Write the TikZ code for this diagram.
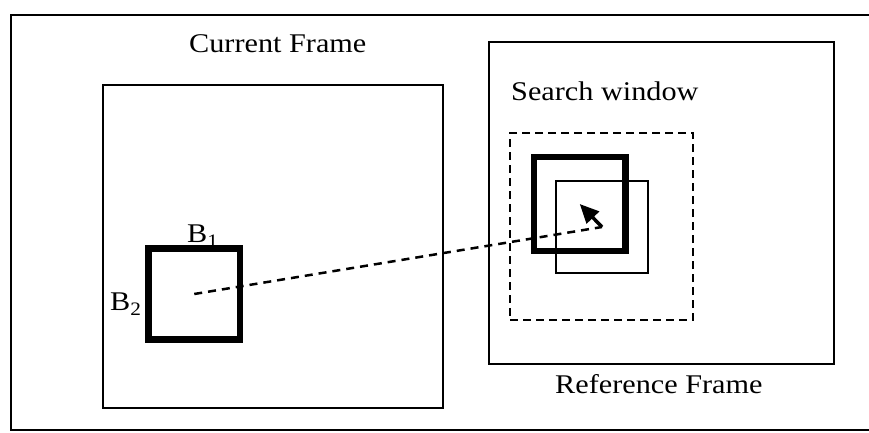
\documentclass[tikz,border=0pt]{standalone}
\usepackage{fontspec}
\usepackage{graphicx}
\setmainfont{Liberation Serif}
\usetikzlibrary{arrows.meta}
\tikzset{
  frame/.style={draw, line width=2pt, inner sep=0pt},
  blockthick/.style={draw, line width=6.5pt, inner sep=0pt},
  blockthin/.style={draw, line width=2pt, inner sep=0pt},
  searchwin/.style={draw, line width=2.5pt, dash pattern=on 8pt off 5pt, inner sep=0pt},
  lbl/.style={inner sep=0pt, font=\fontsize{27}{30}\selectfont},
  mv/.style={line width=2.5pt, dash pattern=on 8pt off 6pt},
  vec/.style={line width=3.5pt, -{Triangle[length=19pt, width=17pt]}}
}
\newcommand{\wide}[1]{\scalebox{1.12}[1]{#1}}
\newcommand{\subs}[1]{\raisebox{-5pt}{\fontsize{19}{19}\selectfont #1}}
\begin{document}
\begin{tikzpicture}[x=1pt, y=-1pt]
\useasboundingbox (0,0) rectangle (869,432);
% outer frame (open to the right)
\coordinate (otr) at (872,15);
\coordinate (otl) at (11,15);
\coordinate (obl) at (11,430);
\coordinate (obr) at (872,430);
\draw[line width=2pt] (otr) -- (otl) -- (obl) -- (obr);
% frames
\node[frame, minimum width=340pt, minimum height=323pt] (cur) at (273,246.5) {};
\node[frame, minimum width=345pt, minimum height=322pt] (ref) at (661.5,203) {};
% search window
\node[searchwin, minimum width=183pt, minimum height=187pt] (sw) at (601.5,226.5) {};
% blocks
\node[blockthick, minimum width=91.5pt, minimum height=91pt] (blk) at (194.25,294) {};
\node[blockthick, minimum width=91.5pt, minimum height=94pt] (best) at (579.75,204) {};
\node[blockthin, minimum width=92pt, minimum height=92pt] (cand) at (602,227) {};
% connectors
\draw[mv] (blk.center) -- (cand.center);
\draw[vec] (cand.center) -- (best.center);
% labels
\node[lbl, anchor=base west] (tcur) at (189,52) {\wide{Current Frame}};
\node[lbl, anchor=base west] (tsw) at (511,100) {\wide{Search window}};
\node[lbl, anchor=base west] (tref) at (555,393) {\wide{Reference Frame}};
\node[lbl, anchor=base west] (tb1) at (187,242) {\wide{B\subs{1}}};
\node[lbl, anchor=base west] (tb2) at (110,310) {\wide{B\subs{2}}};
\end{tikzpicture}
\end{document}
